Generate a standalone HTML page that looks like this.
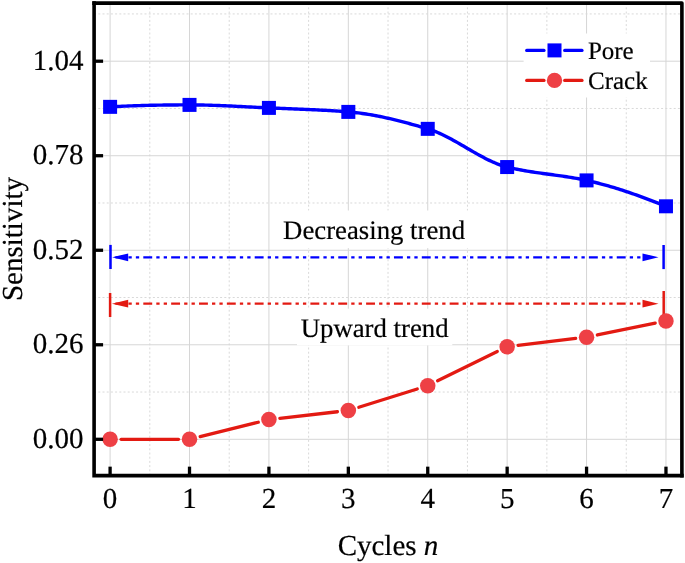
<!DOCTYPE html>
<html><head><meta charset="utf-8"><style>
html,body{margin:0;padding:0;background:#fff;width:685px;height:563px;overflow:hidden}
svg{display:block;will-change:transform}
text{font-family:"Liberation Serif",serif;fill:#000;stroke:#000;stroke-width:0.2px;text-rendering:geometricPrecision}
</style></head><body>
<svg width="685" height="563" viewBox="0 0 685 563">
<rect width="685" height="563" fill="#fff"/>
<line x1="110.1" y1="3.1" x2="110.1" y2="475.65" stroke="#d6d6d6" stroke-width="1.0"/>
<line x1="189.51" y1="3.1" x2="189.51" y2="475.65" stroke="#d6d6d6" stroke-width="1.0"/>
<line x1="268.92" y1="3.1" x2="268.92" y2="475.65" stroke="#d6d6d6" stroke-width="1.0"/>
<line x1="348.33" y1="3.1" x2="348.33" y2="475.65" stroke="#d6d6d6" stroke-width="1.0"/>
<line x1="427.74" y1="3.1" x2="427.74" y2="475.65" stroke="#d6d6d6" stroke-width="1.0"/>
<line x1="507.15" y1="3.1" x2="507.15" y2="475.65" stroke="#d6d6d6" stroke-width="1.0"/>
<line x1="586.56" y1="3.1" x2="586.56" y2="475.65" stroke="#d6d6d6" stroke-width="1.0"/>
<line x1="665.97" y1="3.1" x2="665.97" y2="475.65" stroke="#d6d6d6" stroke-width="1.0"/>
<line x1="149.81" y1="3.1" x2="149.81" y2="475.65" stroke="#d9d9d9" stroke-width="1.0" stroke-dasharray="2 2.2"/>
<line x1="229.21" y1="3.1" x2="229.21" y2="475.65" stroke="#d9d9d9" stroke-width="1.0" stroke-dasharray="2 2.2"/>
<line x1="308.62" y1="3.1" x2="308.62" y2="475.65" stroke="#d9d9d9" stroke-width="1.0" stroke-dasharray="2 2.2"/>
<line x1="388.03" y1="3.1" x2="388.03" y2="475.65" stroke="#d9d9d9" stroke-width="1.0" stroke-dasharray="2 2.2"/>
<line x1="467.44" y1="3.1" x2="467.44" y2="475.65" stroke="#d9d9d9" stroke-width="1.0" stroke-dasharray="2 2.2"/>
<line x1="546.86" y1="3.1" x2="546.86" y2="475.65" stroke="#d9d9d9" stroke-width="1.0" stroke-dasharray="2 2.2"/>
<line x1="626.26" y1="3.1" x2="626.26" y2="475.65" stroke="#d9d9d9" stroke-width="1.0" stroke-dasharray="2 2.2"/>
<line x1="94.1" y1="439.3" x2="681.9" y2="439.3" stroke="#d6d6d6" stroke-width="1.0"/>
<line x1="94.1" y1="344.77" x2="681.9" y2="344.77" stroke="#d6d6d6" stroke-width="1.0"/>
<line x1="94.1" y1="250.25" x2="681.9" y2="250.25" stroke="#d6d6d6" stroke-width="1.0"/>
<line x1="94.1" y1="155.72" x2="681.9" y2="155.72" stroke="#d6d6d6" stroke-width="1.0"/>
<line x1="94.1" y1="61.2" x2="681.9" y2="61.2" stroke="#d6d6d6" stroke-width="1.0"/>
<line x1="94.1" y1="392.04" x2="681.9" y2="392.04" stroke="#d9d9d9" stroke-width="1.0" stroke-dasharray="2 2.2"/>
<line x1="94.1" y1="297.51" x2="681.9" y2="297.51" stroke="#d9d9d9" stroke-width="1.0" stroke-dasharray="2 2.2"/>
<line x1="94.1" y1="202.99" x2="681.9" y2="202.99" stroke="#d9d9d9" stroke-width="1.0" stroke-dasharray="2 2.2"/>
<line x1="94.1" y1="108.46" x2="681.9" y2="108.46" stroke="#d9d9d9" stroke-width="1.0" stroke-dasharray="2 2.2"/>
<line x1="94.1" y1="13.93" x2="681.9" y2="13.93" stroke="#d9d9d9" stroke-width="1.0" stroke-dasharray="2 2.2"/>
<rect x="279" y="210.5" width="191" height="37.6" fill="#fff"/>
<rect x="297" y="308.7" width="155.3" height="36.7" fill="#fff"/>
<rect x="523.6" y="33.5" width="126.4" height="64" fill="#fff"/>
<line x1="112.0" y1="257.3" x2="645.0" y2="257.3" stroke="#0000ff" stroke-width="2.2" stroke-dasharray="8.9 4.1 3.3 4.1 3.3 4.15" stroke-dashoffset="24.4"/>
<path d="M112.2 257.3 L128.2 253.4 L128.2 261.2 Z" fill="#0000ff"/>
<path d="M658.5 257.3 L642.5 253.4 L642.5 261.2 Z" fill="#0000ff"/>
<line x1="110.5" y1="244.9" x2="110.5" y2="269.0" stroke="#0000ff" stroke-width="2.5"/>
<line x1="663.6" y1="245.0" x2="663.6" y2="269.1" stroke="#0000ff" stroke-width="2.5"/>
<line x1="112.0" y1="303.7" x2="645.0" y2="303.7" stroke="#e31a12" stroke-width="2.2" stroke-dasharray="8.9 4.1 3.3 4.1 3.3 4.15" stroke-dashoffset="24.4"/>
<path d="M111.9 303.7 L128.2 299.8 L128.2 307.59999999999997 Z" fill="#e31a12"/>
<path d="M658.5 303.7 L642.5 299.8 L642.5 307.59999999999997 Z" fill="#e31a12"/>
<line x1="110.1" y1="293.0" x2="110.1" y2="317.0" stroke="#e31a12" stroke-width="2.5"/>
<line x1="663.7" y1="291.0" x2="663.7" y2="317.0" stroke="#e31a12" stroke-width="2.5"/>
<text x="283.1" y="239" font-family="Liberation Serif, serif" font-size="26.75">Decreasing trend</text>
<text x="300.7" y="336.5" font-family="Liberation Serif, serif" font-size="26.75">Upward trend</text>
<path d="M110.1 106.85 L112.09 106.74 L114.07 106.64 L116.06 106.53 L118.04 106.44 L120.03 106.34 L122.01 106.25 L124 106.16 L125.98 106.08 L127.97 106 L129.95 105.92 L131.94 105.85 L133.92 105.78 L135.91 105.71 L137.89 105.65 L139.88 105.58 L141.86 105.53 L143.85 105.47 L145.83 105.42 L147.82 105.37 L149.81 105.32 L151.79 105.28 L153.78 105.24 L155.76 105.2 L157.75 105.16 L159.73 105.13 L161.72 105.1 L163.7 105.07 L165.69 105.04 L167.67 105.02 L169.66 105 L171.64 104.98 L173.63 104.96 L175.61 104.95 L177.6 104.93 L179.58 104.92 L181.57 104.91 L183.55 104.91 L185.54 104.9 L187.52 104.9 L189.51 104.9 L191.5 104.9 L193.48 104.91 L195.47 104.93 L197.45 104.95 L199.44 104.98 L201.42 105.02 L203.41 105.06 L205.39 105.1 L207.38 105.15 L209.36 105.21 L211.35 105.27 L213.33 105.33 L215.32 105.4 L217.3 105.47 L219.29 105.55 L221.27 105.63 L223.26 105.71 L225.24 105.79 L227.23 105.88 L229.21 105.97 L231.2 106.06 L233.19 106.16 L235.17 106.25 L237.16 106.35 L239.14 106.45 L241.13 106.55 L243.11 106.65 L245.1 106.75 L247.08 106.85 L249.07 106.95 L251.05 107.05 L253.04 107.15 L255.02 107.25 L257.01 107.35 L258.99 107.44 L260.98 107.54 L262.96 107.63 L264.95 107.72 L266.93 107.81 L268.92 107.9 L270.91 107.98 L272.89 108.07 L274.88 108.15 L276.86 108.23 L278.85 108.31 L280.83 108.39 L282.82 108.47 L284.8 108.55 L286.79 108.63 L288.77 108.7 L290.76 108.78 L292.74 108.86 L294.73 108.94 L296.71 109.02 L298.7 109.1 L300.68 109.18 L302.67 109.26 L304.65 109.35 L306.64 109.43 L308.62 109.52 L310.61 109.61 L312.6 109.7 L314.58 109.79 L316.57 109.89 L318.55 109.99 L320.54 110.09 L322.52 110.19 L324.51 110.3 L326.49 110.41 L328.48 110.53 L330.46 110.64 L332.45 110.77 L334.43 110.89 L336.42 111.02 L338.4 111.16 L340.39 111.29 L342.37 111.44 L344.36 111.59 L346.34 111.74 L348.33 111.9 L350.32 112.07 L352.3 112.26 L354.29 112.46 L356.27 112.69 L358.26 112.93 L360.24 113.18 L362.23 113.45 L364.21 113.74 L366.2 114.04 L368.18 114.36 L370.17 114.69 L372.15 115.03 L374.14 115.39 L376.12 115.76 L378.11 116.15 L380.09 116.54 L382.08 116.95 L384.06 117.37 L386.05 117.81 L388.03 118.25 L390.02 118.7 L392.01 119.17 L393.99 119.64 L395.98 120.12 L397.96 120.62 L399.95 121.12 L401.93 121.63 L403.92 122.14 L405.9 122.67 L407.89 123.2 L409.87 123.74 L411.86 124.29 L413.84 124.84 L415.83 125.4 L417.81 125.96 L419.8 126.53 L421.78 127.11 L423.77 127.68 L425.75 128.26 L427.74 128.85 L429.73 129.47 L431.71 130.14 L433.7 130.87 L435.68 131.64 L437.67 132.47 L439.65 133.34 L441.64 134.25 L443.62 135.2 L445.61 136.18 L447.59 137.19 L449.58 138.24 L451.56 139.31 L453.55 140.4 L455.53 141.51 L457.52 142.64 L459.5 143.78 L461.49 144.93 L463.47 146.09 L465.46 147.25 L467.44 148.41 L469.43 149.57 L471.42 150.73 L473.4 151.87 L475.39 153.01 L477.37 154.13 L479.36 155.23 L481.34 156.31 L483.33 157.37 L485.31 158.4 L487.3 159.4 L489.28 160.37 L491.27 161.3 L493.25 162.19 L495.24 163.03 L497.22 163.84 L499.21 164.59 L501.19 165.29 L503.18 165.94 L505.16 166.52 L507.15 167.05 L509.14 167.53 L511.12 168 L513.11 168.44 L515.09 168.87 L517.08 169.28 L519.06 169.67 L521.05 170.04 L523.03 170.41 L525.02 170.76 L527 171.09 L528.99 171.42 L530.97 171.73 L532.96 172.04 L534.94 172.33 L536.93 172.62 L538.91 172.91 L540.9 173.18 L542.88 173.46 L544.87 173.73 L546.86 174 L548.84 174.26 L550.83 174.53 L552.81 174.79 L554.8 175.06 L556.78 175.33 L558.77 175.61 L560.75 175.89 L562.74 176.17 L564.72 176.46 L566.71 176.76 L568.69 177.07 L570.68 177.39 L572.66 177.72 L574.65 178.06 L576.63 178.41 L578.62 178.78 L580.6 179.16 L582.59 179.56 L584.57 179.97 L586.56 180.4 L588.55 180.85 L590.53 181.31 L592.52 181.78 L594.5 182.26 L596.49 182.76 L598.47 183.27 L600.46 183.79 L602.44 184.32 L604.43 184.86 L606.41 185.42 L608.4 185.98 L610.38 186.56 L612.37 187.14 L614.35 187.74 L616.34 188.35 L618.32 188.97 L620.31 189.59 L622.29 190.23 L624.28 190.87 L626.26 191.53 L628.25 192.2 L630.24 192.87 L632.22 193.55 L634.21 194.24 L636.19 194.94 L638.18 195.65 L640.16 196.36 L642.15 197.09 L644.13 197.82 L646.12 198.55 L648.1 199.3 L650.09 200.05 L652.07 200.81 L654.06 201.58 L656.04 202.35 L658.03 203.13 L660.01 203.91 L662 204.7 L663.98 205.5 L665.97 206.3" fill="none" stroke="#0000ff" stroke-width="3.4" stroke-linejoin="round"/>
<rect x="103.1" y="99.85" width="14" height="14" fill="#0000ff"/>
<rect x="182.51" y="97.9" width="14" height="14" fill="#0000ff"/>
<rect x="261.92" y="100.9" width="14" height="14" fill="#0000ff"/>
<rect x="341.33" y="104.9" width="14" height="14" fill="#0000ff"/>
<rect x="420.74" y="121.85" width="14" height="14" fill="#0000ff"/>
<rect x="500.15" y="160.05" width="14" height="14" fill="#0000ff"/>
<rect x="579.56" y="173.4" width="14" height="14" fill="#0000ff"/>
<rect x="658.97" y="199.3" width="14" height="14" fill="#0000ff"/>
<line x1="121.1" y1="439.3" x2="178.51" y2="439.3" stroke="#e31a12" stroke-width="3.3" stroke-linecap="round"/>
<line x1="200.19" y1="436.65" x2="258.24" y2="422.25" stroke="#e31a12" stroke-width="3.3" stroke-linecap="round"/>
<line x1="279.85" y1="418.35" x2="337.4" y2="411.75" stroke="#e31a12" stroke-width="3.3" stroke-linecap="round"/>
<line x1="358.83" y1="407.22" x2="417.24" y2="388.98" stroke="#e31a12" stroke-width="3.3" stroke-linecap="round"/>
<line x1="437.61" y1="380.85" x2="497.28" y2="351.55" stroke="#e31a12" stroke-width="3.3" stroke-linecap="round"/>
<line x1="518.07" y1="345.39" x2="575.64" y2="338.46" stroke="#e31a12" stroke-width="3.3" stroke-linecap="round"/>
<line x1="597.34" y1="334.96" x2="655.19" y2="323.19" stroke="#e31a12" stroke-width="3.3" stroke-linecap="round"/>
<circle cx="110.1" cy="439.3" r="7.75" fill="#ee4045"/>
<circle cx="189.51" cy="439.3" r="7.75" fill="#ee4045"/>
<circle cx="268.92" cy="419.6" r="7.75" fill="#ee4045"/>
<circle cx="348.33" cy="410.5" r="7.75" fill="#ee4045"/>
<circle cx="427.74" cy="385.7" r="7.75" fill="#ee4045"/>
<circle cx="507.15" cy="346.7" r="7.75" fill="#ee4045"/>
<circle cx="586.56" cy="337.15" r="7.75" fill="#ee4045"/>
<circle cx="665.97" cy="321" r="7.75" fill="#ee4045"/>
<line x1="526.7" y1="50.4" x2="544" y2="50.4" stroke="#0000ff" stroke-width="3.2" stroke-linecap="round"/>
<line x1="564.7" y1="50.4" x2="582" y2="50.4" stroke="#0000ff" stroke-width="3.2" stroke-linecap="round"/>
<rect x="547.5" y="43.4" width="14" height="14" fill="#0000ff"/>
<line x1="526.7" y1="80.4" x2="544" y2="80.4" stroke="#e31a12" stroke-width="3.2" stroke-linecap="round"/>
<line x1="564.7" y1="80.4" x2="582" y2="80.4" stroke="#e31a12" stroke-width="3.2" stroke-linecap="round"/>
<circle cx="554.5" cy="80.4" r="7.7" fill="#ee4045"/>
<text x="587.9" y="58.7" font-family="Liberation Serif, serif" font-size="25">Pore</text>
<text x="588" y="88.7" font-family="Liberation Serif, serif" font-size="25">Crack</text>
<path d="M681.9 475.65 L94.1 475.65 L94.1 3.1" fill="none" stroke="#000" stroke-width="3.6" stroke-linecap="square" stroke-linejoin="miter"/>
<path d="M94.1 3.1 L681.9 3.1 L681.9 475.65" fill="none" stroke="#000" stroke-width="3.6" stroke-linecap="square" stroke-linejoin="round"/>
<line x1="94.1" y1="439.3" x2="103.1" y2="439.3" stroke="#000" stroke-width="3.3"/>
<text x="83.5" y="447.65" font-family="Liberation Serif, serif" font-size="29" text-anchor="end">0.00</text>
<line x1="94.1" y1="344.77" x2="103.1" y2="344.77" stroke="#000" stroke-width="3.3"/>
<text x="83.5" y="353.12" font-family="Liberation Serif, serif" font-size="29" text-anchor="end">0.26</text>
<line x1="94.1" y1="250.25" x2="103.1" y2="250.25" stroke="#000" stroke-width="3.3"/>
<text x="83.5" y="258.6" font-family="Liberation Serif, serif" font-size="29" text-anchor="end">0.52</text>
<line x1="94.1" y1="155.72" x2="103.1" y2="155.72" stroke="#000" stroke-width="3.3"/>
<text x="83.5" y="164.07" font-family="Liberation Serif, serif" font-size="29" text-anchor="end">0.78</text>
<line x1="94.1" y1="61.2" x2="103.1" y2="61.2" stroke="#000" stroke-width="3.3"/>
<text x="83.5" y="69.55" font-family="Liberation Serif, serif" font-size="29" text-anchor="end">1.04</text>
<line x1="110.1" y1="475.65" x2="110.1" y2="466.65" stroke="#000" stroke-width="3.3"/>
<text x="110.1" y="507.6" font-family="Liberation Serif, serif" font-size="29" text-anchor="middle">0</text>
<line x1="189.51" y1="475.65" x2="189.51" y2="466.65" stroke="#000" stroke-width="3.3"/>
<text x="189.51" y="507.6" font-family="Liberation Serif, serif" font-size="29" text-anchor="middle">1</text>
<line x1="268.92" y1="475.65" x2="268.92" y2="466.65" stroke="#000" stroke-width="3.3"/>
<text x="268.92" y="507.6" font-family="Liberation Serif, serif" font-size="29" text-anchor="middle">2</text>
<line x1="348.33" y1="475.65" x2="348.33" y2="466.65" stroke="#000" stroke-width="3.3"/>
<text x="348.33" y="507.6" font-family="Liberation Serif, serif" font-size="29" text-anchor="middle">3</text>
<line x1="427.74" y1="475.65" x2="427.74" y2="466.65" stroke="#000" stroke-width="3.3"/>
<text x="427.74" y="507.6" font-family="Liberation Serif, serif" font-size="29" text-anchor="middle">4</text>
<line x1="507.15" y1="475.65" x2="507.15" y2="466.65" stroke="#000" stroke-width="3.3"/>
<text x="507.15" y="507.6" font-family="Liberation Serif, serif" font-size="29" text-anchor="middle">5</text>
<line x1="586.56" y1="475.65" x2="586.56" y2="466.65" stroke="#000" stroke-width="3.3"/>
<text x="586.56" y="507.6" font-family="Liberation Serif, serif" font-size="29" text-anchor="middle">6</text>
<line x1="665.97" y1="475.65" x2="665.97" y2="466.65" stroke="#000" stroke-width="3.3"/>
<text x="665.97" y="507.6" font-family="Liberation Serif, serif" font-size="29" text-anchor="middle">7</text>
<text x="388" y="555.3" font-family="Liberation Serif, serif" font-size="29" text-anchor="middle">Cycles <tspan font-style="italic">n</tspan></text>
<text transform="translate(21.8 239) rotate(-90)" font-family="Liberation Serif, serif" font-size="29" text-anchor="middle">Sensitivity</text>
</svg>
</body></html>
